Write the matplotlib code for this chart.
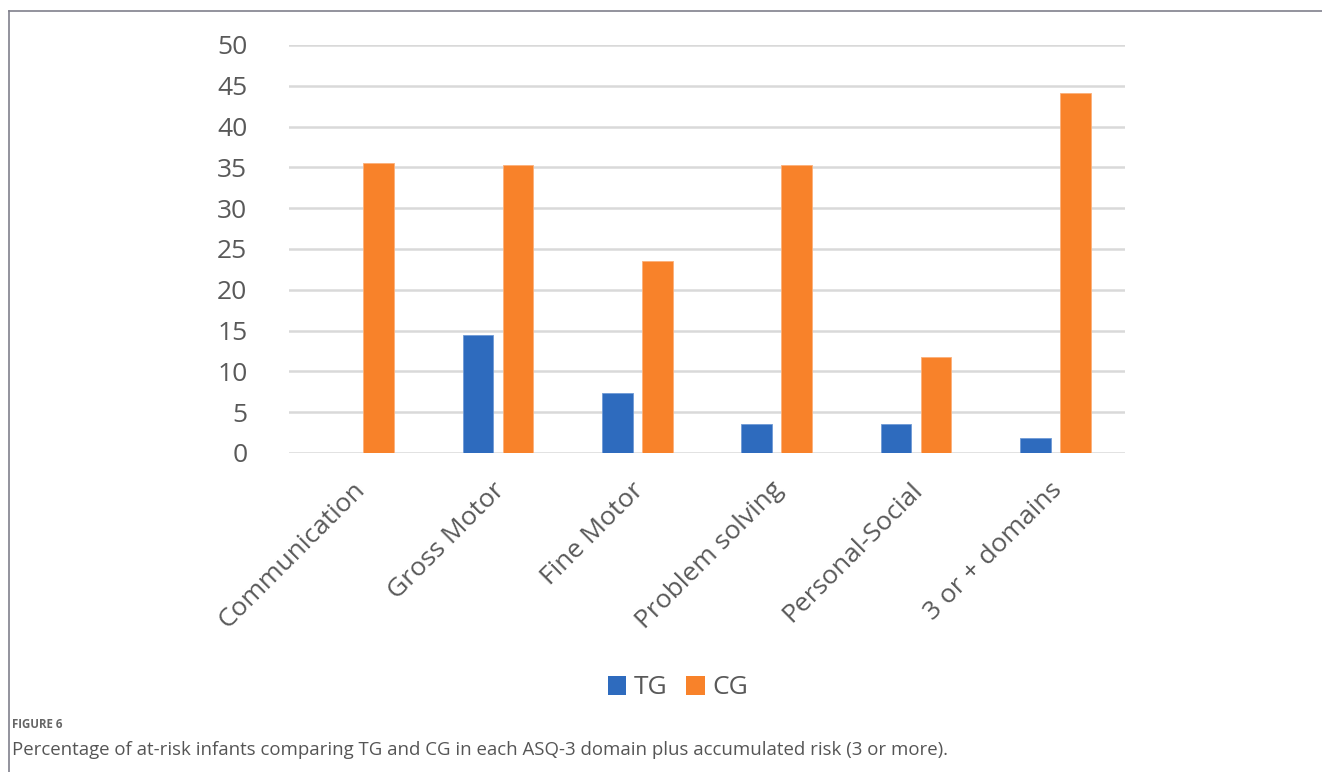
import matplotlib
matplotlib.use("Agg")
import matplotlib.pyplot as plt
import numpy as np
from matplotlib.patches import Patch
from matplotlib.lines import Line2D

categories = ["Communication", "Gross Motor", "Fine Motor", "Problem solving",
              "Personal-Social", "3 or + domains"]
tg_values = [0.0, 14.5, 7.3, 3.6, 3.6, 1.8]
cg_values = [35.5, 35.3, 23.5, 35.3, 11.8, 44.1]
series_names = ["TG", "CG"]
y_ticks = [0, 5, 10, 15, 20, 25, 30, 35, 40, 45, 50]

BLUE = "#2E6BBE"
ORANGE = "#F8822A"
TXT = "#595959"
FONT = "Open Sans"

plt.rcParams["font.family"] = [FONT, "DejaVu Sans"]

W, H = 1322, 772
fig = plt.figure(figsize=(W / 100, H / 100), dpi=100)

ax = fig.add_axes([289 / W, (H - 453) / H, 836 / W, 408 / H])
x = np.arange(len(categories))
bw = 0.222
off = 0.1436
ax.bar(x - off, tg_values, bw, color=BLUE, edgecolor="#6f9ad6", linewidth=0.6, zorder=3)
ax.bar(x + off, cg_values, bw, color=ORANGE, edgecolor="#fbb07a", linewidth=0.6, zorder=3)

ax.set_xlim(-0.5, len(categories) - 0.5)
ax.set_ylim(0, 50)
ax.set_yticks(y_ticks)
ax.set_yticklabels([str(v) for v in y_ticks], fontsize=19, color=TXT)
ax.yaxis.grid(True, color="#d9d9d9", linewidth=1.8, zorder=0)
ax.set_axisbelow(True)
ax.tick_params(axis="y", length=0, pad=30)
ax.tick_params(axis="x", length=0, pad=24)
for s in ax.spines.values():
    s.set_visible(False)
ax.set_xticks(x + 0.02)
ax.set_xticklabels(categories, rotation=45, ha="right", va="center",
                   rotation_mode="anchor", fontsize=19, color=TXT)

handles = [Patch(facecolor=BLUE, edgecolor="none"), Patch(facecolor=ORANGE, edgecolor="none")]
fig.legend(handles, series_names, loc="center", bbox_to_anchor=(678 / W, 1 - 688 / H),
           ncol=2, frameon=False, fontsize=19, handlelength=0.7, handleheight=0.7,
           handletextpad=0.3, columnspacing=0.7, labelcolor=TXT)

# frame lines
fig.add_artist(Line2D([9 / W, 9 / W], [0, 1 - 11 / H], transform=fig.transFigure,
                      color="#80808c", linewidth=1.2))
fig.add_artist(Line2D([9 / W, 1.0], [1 - 11 / H, 1 - 11 / H], transform=fig.transFigure,
                      color="#80808c", linewidth=1.2))

fig.text(12 / W, 1 - 725 / H, "FIGURE 6", fontsize=8.3, fontweight="bold",
         color="#666666", va="center", ha="left")
fig.text(12 / W, 1 - 750 / H,
         "Percentage of at-risk infants comparing TG and CG in each ASQ-3 domain plus accumulated risk (3 or more).",
         fontsize=13.4, color="#555555", va="center", ha="left")

fig.savefig("out.png", dpi=100, facecolor="white")
